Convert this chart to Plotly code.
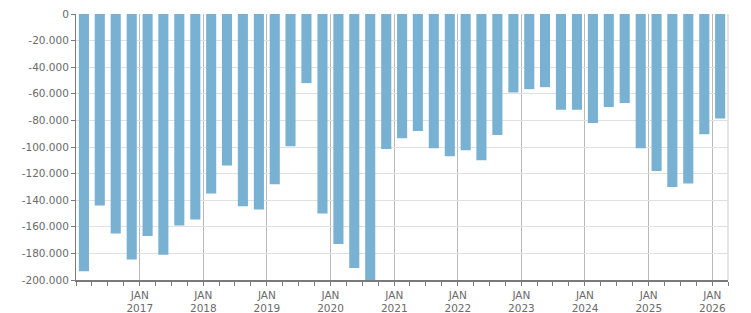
import plotly.graph_objects as go

# Quarter start dates (Q1 2016 .. Q1 2026)
quarters = [f"{y}-{m:02d}-01" for y in range(2016, 2027) for m in (1, 4, 7, 10)][:41]

values = [
    -193500, -144000, -165000, -184500,
    -167000, -181000, -159000, -154500,
    -135000, -114000, -144500, -147000,
    -128000, -99500, -52000, -150000,
    -173000, -191000, -201000, -101500,
    -93500, -88000, -101000, -107000,
    -102500, -110000, -91000, -59000,
    -56500, -55000, -72000, -72000,
    -82000, -70000, -67000, -101000,
    -118000, -130000, -127500, -90500,
    -78500,
]

x_tickvals = [f"{y}-01-01" for y in range(2017, 2027)]
x_ticktext = [f"JAN<br>{y}" for y in range(2017, 2027)]

y_tickvals = [0, -20000, -40000, -60000, -80000, -100000, -120000, -140000, -160000, -180000, -200000]
y_ticktext = ["0", "-20.000", "-40.000", "-60.000", "-80.000", "-100.000", "-120.000",
              "-140.000", "-160.000", "-180.000", "-200.000"]

BAR_COLOR = "#79b1d3"
TEXT_COLOR = "#6a6a6a"
AXIS_COLOR = "#7a7a7a"

fig = go.Figure(
    go.Bar(
        x=quarters,
        y=values,
        xperiod="M3",
        xperiodalignment="middle",
        width=58 * 86400000,
        marker=dict(color=BAR_COLOR, line=dict(width=0)),
    )
)

fig.update_layout(
    width=751,
    height=313,
    margin=dict(l=76, r=23, t=14, b=33, autoexpand=False),
    plot_bgcolor="white",
    paper_bgcolor="white",
    showlegend=False,
    font=dict(family="DejaVu Sans", size=10.5, color=TEXT_COLOR),
    shapes=[
        dict(type="line", xref="paper", yref="paper", x0=1, x1=1, y0=0, y1=1,
             line=dict(color="#dcdcdc", width=1.5), layer="below"),
    ],
)

fig.update_xaxes(
    type="date",
    automargin=False,
    range=["2016-01-01", "2026-04-01"],
    tickmode="array",
    tickvals=x_tickvals,
    ticktext=x_ticktext,
    ticks="outside",
    ticklen=4,
    tickcolor=AXIS_COLOR,
    showgrid=True,
    gridcolor="#b9b9b9",
    gridwidth=1,
    showline=True,
    linecolor=AXIS_COLOR,
    linewidth=2,
    zeroline=False,
    minor=dict(dtick="M3", tick0="2016-01-01", ticks="outside", ticklen=4,
               tickcolor=AXIS_COLOR, showgrid=False),
)

fig.update_yaxes(
    automargin=False,
    range=[-200000, 0],
    tickmode="array",
    tickvals=y_tickvals,
    ticktext=y_ticktext,
    ticks="outside",
    ticklen=4,
    tickcolor=AXIS_COLOR,
    showgrid=True,
    gridcolor="#e0e0e0",
    gridwidth=1,
    showline=True,
    linecolor=AXIS_COLOR,
    linewidth=1,
    zeroline=False,
)

fig.write_html("out.html")
